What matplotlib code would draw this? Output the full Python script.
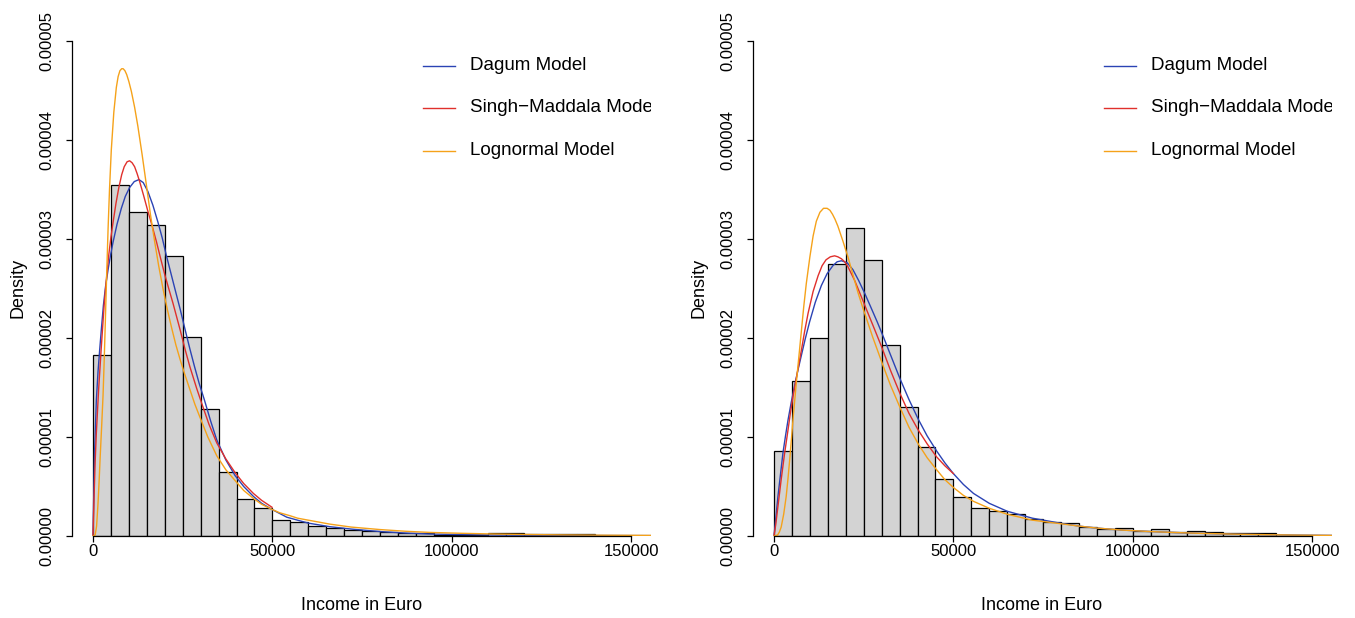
import numpy as np
import matplotlib
matplotlib.use("Agg")
import matplotlib.pyplot as plt

plt.rcParams['font.family'] = ['Liberation Sans', 'DejaVu Sans']

# histogram bins (Euro) and densities (x 1e-5)
bin_edges = np.arange(0, 165000, 5000)
dens_left = [1.83, 3.55, 3.27, 3.14, 2.83, 2.01, 1.28, 0.65, 0.37, 0.28,
             0.16, 0.14, 0.10, 0.08, 0.06, 0.05, 0.04, 0.03, 0.03, 0.012,
             0.012, 0.008, 0.03, 0.03, 0.02, 0.02, 0.02, 0.02, 0.005, 0.005,
             0.005, 0.005]
dens_right = [0.86, 1.57, 2.00, 2.75, 3.11, 2.79, 1.93, 1.30, 0.90, 0.58,
              0.39, 0.28, 0.25, 0.22, 0.17, 0.14, 0.13, 0.094, 0.07, 0.084,
              0.054, 0.068, 0.04, 0.047, 0.04, 0.033, 0.027, 0.027, 0.005, 0.005,
              0.005, 0.005]

# fitted model curves: x in thousand Euro, y x 1e-5
dagum_l_x = [0, 0.1, 0.2, 0.46, 0.93, 1.4, 1.86, 2.4, 2.9, 3.5, 4.2, 4.9, 5.6, 6.7,
             7.9, 9.0, 10.2, 11.5, 12.8, 14.0, 15.3, 16.7, 18.1, 19.3, 20.4, 21.6,
             22.8, 24.3, 25.7, 27, 28.3, 29.6, 31, 32.8, 34.5, 37, 39.6, 42, 44.7, 47,
             49.8, 54, 60, 66, 72, 80, 87, 94, 103, 112, 125, 140, 155.5]
dagum_l_y = [0, 0.22, 0.4, 0.87, 1.37, 1.66, 1.88, 2.12, 2.33, 2.52, 2.69, 2.84, 2.97,
             3.15, 3.31, 3.43, 3.52, 3.58, 3.60, 3.57, 3.48, 3.34, 3.17, 3.01, 2.84, 2.67,
             2.50, 2.29, 2.08, 1.89, 1.71, 1.54, 1.38, 1.16, 0.97, 0.77, 0.61, 0.50, 0.40,
             0.33, 0.27, 0.19, 0.13, 0.094, 0.07, 0.045, 0.03, 0.02, 0.014, 0.01, 0.007,
             0.005, 0.004]
sm_l_x = [0, 0.3, 0.6, 0.93, 1.6, 2.3, 3.1, 3.8, 4.4, 5.0, 5.6, 6.4, 7.2, 8.0, 8.7, 9.5,
          10.2, 10.9, 11.6, 12.3, 13, 14.1, 15.3, 16.5, 17.7, 18.8, 20, 21.1, 22.3,
          24.3, 25.7, 27, 28.9, 30.3, 32.3, 34.5, 37, 39.6, 42, 44.7, 47, 49.9]
sm_l_y = [0, 0.4, 0.75, 1.04, 1.5, 1.9, 2.33, 2.62, 2.84, 3.02, 3.17, 3.36, 3.52, 3.65,
          3.73, 3.78, 3.79, 3.77, 3.73, 3.66, 3.58, 3.44, 3.28, 3.13, 2.97, 2.81, 2.64,
          2.50, 2.35, 2.08, 1.88, 1.71, 1.49, 1.34, 1.13, 0.94, 0.78, 0.64, 0.53, 0.43,
          0.36, 0.29]
logn_l_x = [0, 0.6, 1.0, 1.4, 1.7, 2.0, 2.4, 2.8, 3.1, 3.4, 3.8, 4.2, 4.6, 5.1, 5.8,
            6.5, 7.0, 7.5, 8.0, 8.4, 8.9, 9.4, 10.0, 10.7, 11.6, 12.5, 13.7, 14.9, 16.0,
            17.2, 18.3, 19.5, 20.7, 22, 23.1, 24.3, 25.6, 27, 28.4, 29.8, 32, 34.5, 37,
            39.6, 42, 44.7, 47, 49.8, 52, 54.9, 57, 60, 66, 72, 80, 87, 94, 103, 112,
            121, 131, 143, 155.5]
logn_l_y = [0, 0.01, 0.1, 0.33, 0.55, 0.8, 1.1, 1.42, 1.75, 2.12, 2.63, 3.1, 3.5, 3.9,
            4.28, 4.53, 4.64, 4.70, 4.72, 4.72, 4.70, 4.66, 4.59, 4.49, 4.33, 4.14, 3.85,
            3.54, 3.25, 2.97, 2.73, 2.50, 2.29, 2.09, 1.93, 1.78, 1.63, 1.48, 1.33, 1.20,
            1.00, 0.81, 0.67, 0.56, 0.46, 0.38, 0.32, 0.27, 0.235, 0.205, 0.18, 0.16, 0.12,
            0.09, 0.065, 0.048, 0.036, 0.027, 0.02, 0.015, 0.011, 0.008, 0.006]

dagum_r_x = [0, 0.5, 1.1, 1.8, 2.5, 3.2, 3.9, 4.8, 5.8, 6.7, 7.6, 8.7, 9.9, 11.5, 13.2,
             14.8, 16.4, 17.6, 18.8, 20.4, 22, 23.6, 25.3, 27, 28.8, 30.5, 32.8, 35.1,
             37.6, 40.2, 42.7, 45.3, 47.6, 50, 52.8, 55.6, 60, 65, 72, 79.7, 85, 90,
             97, 104.8, 112, 118.7, 128, 137.3, 146, 155.8]
dagum_r_y = [0, 0.18, 0.40, 0.62, 0.84, 1.01, 1.17, 1.35, 1.53, 1.68, 1.82, 1.99, 2.16,
             2.36, 2.53, 2.65, 2.73, 2.77, 2.78, 2.76, 2.69, 2.58, 2.45, 2.31, 2.16, 2.01,
             1.80, 1.59, 1.38, 1.18, 1.01, 0.86, 0.74, 0.63, 0.52, 0.43, 0.33, 0.25, 0.18,
             0.13, 0.10, 0.08, 0.06, 0.045, 0.035, 0.027, 0.019, 0.013, 0.009, 0.006]
sm_r_x = [0, 0.5, 1.2, 2.0, 2.9, 3.9, 4.6, 5.3, 6.0, 6.7, 7.6, 8.5, 9.5, 10.9, 12.3,
          13.4, 14.5, 15.7, 16.9, 17.8, 18.8, 19.7, 20.6, 22.5, 24.3, 26.2, 28, 30,
          32.5, 35.1, 37.6, 40.2, 42.7, 45.3, 47.6, 50]
sm_r_y = [0, 0.12, 0.33, 0.57, 0.82, 1.07, 1.25, 1.41, 1.55, 1.69, 1.87, 2.06, 2.25,
          2.47, 2.63, 2.73, 2.79, 2.82, 2.83, 2.82, 2.80, 2.77, 2.72, 2.58, 2.42, 2.25,
          2.09, 1.91, 1.67, 1.44, 1.24, 1.07, 0.93, 0.80, 0.71, 0.63]
logn_r_x = [0, 1, 1.5, 2.0, 2.7, 3.4, 3.9, 4.4, 4.9, 5.3, 5.8, 6.2, 6.9, 7.6, 8.3, 9.0,
            10.0, 10.9, 11.8, 12.8, 13.8, 14.8, 15.6, 16.3, 17.0, 17.8, 19.2, 20.6, 22,
            23.4, 24.8, 26.2, 27.5, 28.8, 30.5, 32.5, 35.1, 37.6, 40.2, 42.7, 45.3, 47.6,
            50, 52.8, 55.6, 60, 65, 72, 79.7, 85, 90, 97, 104.8, 112, 118.7, 128,
            137.3, 146, 155.8]
logn_r_y = [0, 0.01, 0.04, 0.09, 0.22, 0.40, 0.58, 0.78, 1.0, 1.18, 1.38, 1.54, 1.80,
            2.06, 2.32, 2.55, 2.82, 3.03, 3.18, 3.27, 3.31, 3.31, 3.29, 3.25, 3.20, 3.13,
            2.98, 2.82, 2.64, 2.46, 2.30, 2.15, 2.01, 1.88, 1.71, 1.52, 1.30, 1.10, 0.93,
            0.79, 0.67, 0.57, 0.49, 0.41, 0.35, 0.28, 0.22, 0.16, 0.125, 0.10, 0.08,
            0.06, 0.045, 0.035, 0.027, 0.019, 0.013, 0.009, 0.006]

model_names = ["Dagum Model", "Singh\u2212Maddala Model", "Lognormal Model"]
model_colors = ["#2b43b4", "#e0302c", "#f5a21a"]
xticks = [0, 50000, 100000, 150000]
yticks = [0, 1e-5, 2e-5, 3e-5, 4e-5, 5e-5]
ytick_labels = ["0.00000", "0.00001", "0.00002", "0.00003", "0.00004", "0.00005"]

W, H = 1355, 618
fig = plt.figure(figsize=(W / 100, H / 100), dpi=100)


def panel(left_px, dens, curves):
    ax = fig.add_axes([left_px / W, (H - 536) / H, 579 / W, 495 / H])
    ax.bar(bin_edges[:-1], np.array(dens) * 1e-5, width=5000, align='edge',
           color='#d3d3d3', edgecolor='black', linewidth=0.9)
    for (cx, cy), col in zip(curves, model_colors):
        ax.plot(np.array(cx) * 1000, np.array(cy) * 1e-5, color=col, lw=1)
    ax.set_xlim(-5853, 155515)
    ax.set_ylim(0, 5e-5)
    for s in ['top', 'right']:
        ax.spines[s].set_visible(False)
    ax.spines['bottom'].set_bounds(0, 150000)
    ax.spines['left'].set_bounds(0, 5e-5)
    ax.spines['left'].set_linewidth(0.9)
    ax.spines['bottom'].set_linewidth(0.9)
    ax.set_xticks(xticks)
    ax.set_xticklabels([str(t) for t in xticks])
    ax.set_yticks(yticks)
    ax.set_yticklabels(ytick_labels, rotation=90, va='center')
    ax.tick_params(axis='both', labelsize=12, length=4, width=0.9)
    ax.tick_params(axis='y', pad=9)
    ax.tick_params(axis='x', pad=2)
    # legend, clipped at the plot edge like the original
    for i, (name, col) in enumerate(zip(model_names, model_colors)):
        yy = [0.950, 0.865, 0.778][i]
        ax.plot([0.606, 0.661], [yy, yy], color=col, lw=1, transform=ax.transAxes)
        ax.text(0.687, yy, name, transform=ax.transAxes, fontsize=13.5,
                va='center', ha='left', clip_on=True)
    return ax


ax1 = panel(72, dens_left, [(dagum_l_x, dagum_l_y), (sm_l_x, sm_l_y), (logn_l_x, logn_l_y)])
ax2 = panel(753, dens_right, [(dagum_r_x, dagum_r_y), (sm_r_x, sm_r_y), (logn_r_x, logn_r_y)])

fig.text(18 / W, 1 - 288 / H, "Density", rotation=90, ha='center', va='center', fontsize=13)
fig.text(699 / W, 1 - 288 / H, "Density", rotation=90, ha='center', va='center', fontsize=13)
fig.text(362 / W, 1 - 606 / H, "Income in Euro", ha='center', va='center', fontsize=13)
fig.text(1042 / W, 1 - 606 / H, "Income in Euro", ha='center', va='center', fontsize=13)

fig.savefig("out.png", dpi=100)
